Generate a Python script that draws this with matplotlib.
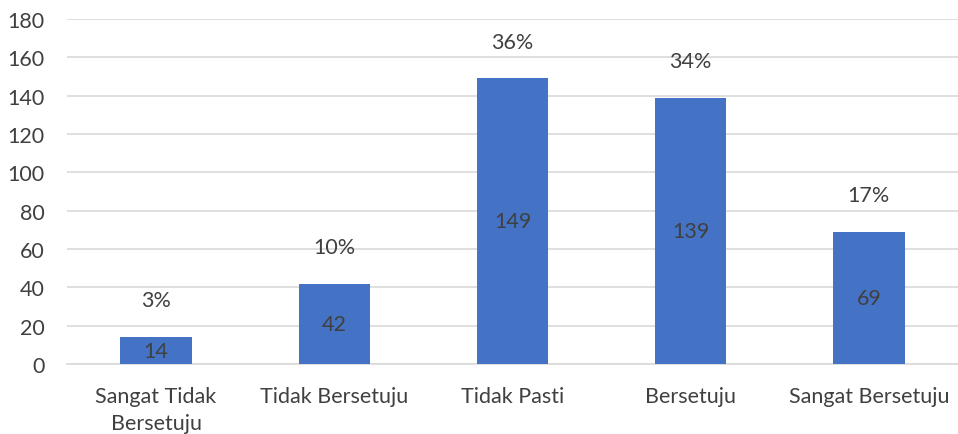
import matplotlib
matplotlib.use("Agg")
import matplotlib.pyplot as plt

# ── data ─────────────────────────────────────────────────────────────────────
categories = ["Sangat Tidak\nBersetuju", "Tidak Bersetuju", "Tidak Pasti",
              "Bersetuju", "Sangat Bersetuju"]
counts = [14, 42, 149, 139, 69]
percents = ["3%", "10%", "36%", "34%", "17%"]

BAR_COLOR = "#4472C4"
TEXT_COLOR = "#404040"
GRID_COLOR = "#D9D9D9"
FS = 15.5

plt.rcParams["font.family"] = ["Lato", "DejaVu Sans"]

fig = plt.figure(figsize=(9.58, 4.35), dpi=100)
ax = fig.add_axes([67 / 958, 1 - 365 / 435, 891 / 958, 345 / 435])

x = list(range(len(categories)))
ax.bar(x, counts, width=0.4, color=BAR_COLOR, zorder=3)

for xi, c, p in zip(x, counts, percents):
    ax.text(xi, c / 2, str(c), ha="center", va="center",
            fontsize=FS, color=TEXT_COLOR, zorder=4)
    ax.annotate(p, (xi, c), xytext=(0, 26.5), textcoords="offset points",
                ha="center", va="center", fontsize=FS, color=TEXT_COLOR)

ax.set_xlim(-0.5, len(categories) - 0.5)
ax.set_ylim(0, 180)
ax.set_yticks(range(0, 181, 20))
ax.yaxis.grid(True, color=GRID_COLOR, linewidth=1.2, zorder=0)
ax.set_xticks(x)
ax.set_xticklabels(categories, fontsize=FS, color=TEXT_COLOR, linespacing=1.45)
ax.tick_params(axis="y", labelsize=FS, labelcolor=TEXT_COLOR, length=0, pad=16)
ax.tick_params(axis="x", length=0, pad=16)
for s in ["top", "right", "left"]:
    ax.spines[s].set_visible(False)
ax.spines["bottom"].set_color(GRID_COLOR)
ax.spines["bottom"].set_linewidth(1.2)

fig.savefig("out.png", dpi=100)
